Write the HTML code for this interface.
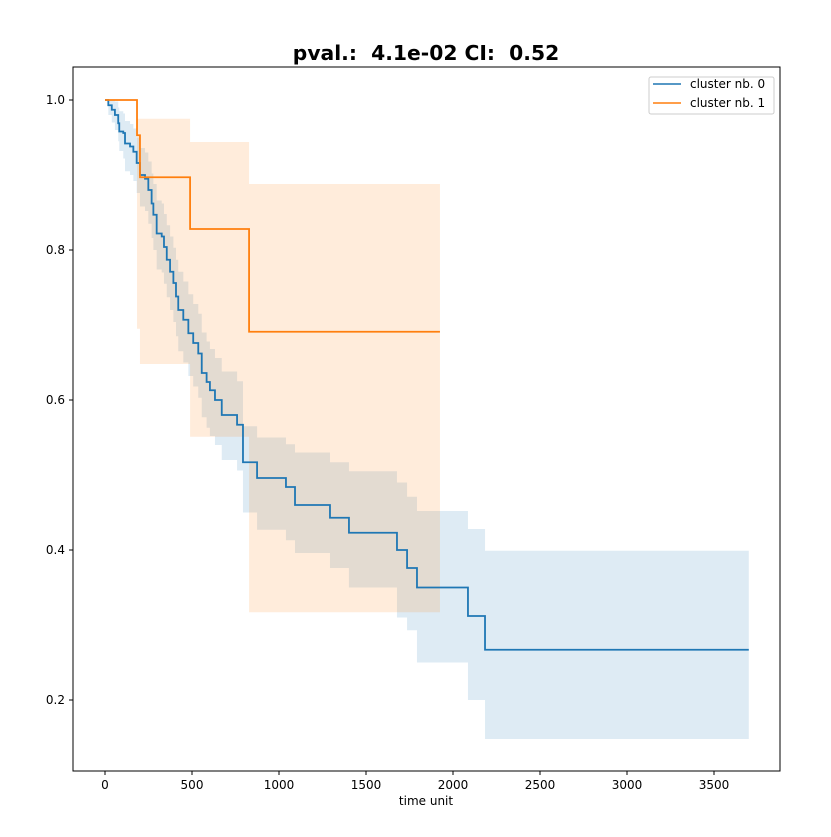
<!DOCTYPE html>
<html><head><meta charset="utf-8"><style>
body{margin:0;background:#fff}
svg text{font-family:"DejaVu Sans","Liberation Sans",sans-serif}
</style></head><body>
<svg id="chart" width="831" height="832" viewBox="0 0 831 832" xmlns="http://www.w3.org/2000/svg">
<rect width="831" height="832" fill="#fff"/>
<text x="426" y="60" text-anchor="middle" font-size="20.3" font-weight="bold" style="white-space:pre" xml:space="preserve">pval.:  4.1e-02 CI:  0.52</text>
<g id="bands"></g>
<g id="lines"></g>
<rect x="73" y="67" width="707" height="704" fill="none" stroke="#000" stroke-width="1"/>
<g id="axes"></g>
<text x="426" y="805" text-anchor="middle" font-size="12">time unit</text>
<g>
<rect x="649" y="77" width="125" height="37" fill="#fff" stroke="#ccc" rx="2"/>
<line x1="653" y1="84" x2="681" y2="84" stroke="#1f77b4" stroke-width="1.5"/>
<text x="690" y="88" font-size="12">cluster nb. 0</text>
<line x1="653" y1="103" x2="681" y2="103" stroke="#ff7f0e" stroke-width="1.5"/>
<text x="690" y="107" font-size="12">cluster nb. 1</text>
</g>
</svg>
<script>
const xTicks=[0,500,1000,1500,2000,2500,3000,3500];
const yTicks=[0.2,0.4,0.6,0.8,1.0];
const blueTimes=[0,19,39,57,76,82,105,115,144,163,182,201,230,249,268,278,297,326,339,355,374,393,408,421,450,479,507,536,556,584,603,632,671,759,793,874,1040,1092,1293,1402,1678,1736,1793,2086,2184];
const blueSurv=[1,0.993,0.987,0.98,0.969,0.958,0.956,0.942,0.938,0.931,0.916,0.9,0.895,0.88,0.862,0.847,0.822,0.818,0.804,0.787,0.771,0.756,0.738,0.72,0.707,0.689,0.676,0.662,0.636,0.624,0.613,0.6,0.58,0.567,0.517,0.496,0.484,0.46,0.443,0.423,0.40,0.376,0.35,0.312,0.267];
const blueUpper=[1,1,1,0.998,0.99,0.985,0.982,0.972,0.968,0.962,0.95,0.936,0.93,0.918,0.902,0.888,0.866,0.862,0.848,0.833,0.818,0.803,0.787,0.771,0.758,0.741,0.728,0.715,0.69,0.678,0.668,0.656,0.638,0.625,0.565,0.55,0.541,0.53,0.517,0.505,0.49,0.471,0.452,0.428,0.399];
const blueLower=[1,0.98,0.97,0.96,0.945,0.932,0.922,0.905,0.9,0.892,0.876,0.858,0.852,0.835,0.816,0.8,0.774,0.77,0.755,0.737,0.72,0.704,0.685,0.665,0.65,0.632,0.618,0.603,0.577,0.563,0.552,0.54,0.52,0.506,0.45,0.427,0.413,0.396,0.376,0.35,0.31,0.293,0.25,0.2,0.148];
const blueEnd=3700;
const orangeTimes=[0,184,201,489,828];
const orangeSurv=[1.0,0.953,0.897,0.828,0.691];
const orangeUpper=[1.0,0.975,0.975,0.944,0.888];
const orangeLower=[1.0,0.695,0.648,0.551,0.317];
const orangeEnd=1925;
const NS='http://www.w3.org/2000/svg';
const X=t=>105+t*0.174;
const Y=s=>100+(1-s)*750;
function stepPath(times,vals,end){let d='M'+X(times[0])+','+Y(vals[0]);for(let i=1;i<times.length;i++){d+=' H'+X(times[i])+' V'+Y(vals[i]);}d+=' H'+X(end);return d;}
function bandPath(times,up,lo,end){let d='M'+X(times[0])+','+Y(up[0]);for(let i=1;i<times.length;i++){d+=' H'+X(times[i])+' V'+Y(up[i]);}d+=' H'+X(end)+' V'+Y(lo[lo.length-1]);for(let i=times.length-1;i>=1;i--){d+=' H'+X(times[i])+' V'+Y(lo[i-1]);}d+=' H'+X(times[0])+' Z';return d;}
const bands=document.getElementById('bands'),lines=document.getElementById('lines'),axes=document.getElementById('axes');
let p=document.createElementNS(NS,'path');


p.setAttribute('d',bandPath(blueTimes,blueUpper,blueLower,blueEnd));p.setAttribute('fill','rgba(31,119,180,0.15)');bands.appendChild(p);
p=document.createElementNS(NS,'path');


p.setAttribute('d',bandPath(orangeTimes,orangeUpper,orangeLower,orangeEnd));p.setAttribute('fill','rgba(255,127,14,0.15)');bands.appendChild(p);
p=document.createElementNS(NS,'path');


p.setAttribute('d',stepPath(blueTimes,blueSurv,blueEnd));p.setAttribute('fill','none');p.setAttribute('stroke','#1f77b4');p.setAttribute('stroke-width','1.8');lines.appendChild(p);
p=document.createElementNS(NS,'path');


p.setAttribute('d',stepPath(orangeTimes,orangeSurv,orangeEnd));p.setAttribute('fill','none');p.setAttribute('stroke','#ff7f0e');p.setAttribute('stroke-width','1.8');lines.appendChild(p);
xTicks.forEach(v=>{const l=document.createElementNS(NS,'line');


l.setAttribute('x1',X(v));l.setAttribute('x2',X(v));l.setAttribute('y1',771);l.setAttribute('y2',775);l.setAttribute('stroke','#000');axes.appendChild(l);
const t=document.createElementNS(NS,'text');


t.setAttribute('x',X(v));t.setAttribute('y',789);t.setAttribute('text-anchor','middle');t.setAttribute('font-size','12');t.textContent=v;axes.appendChild(t);});
yTicks.forEach(v=>{const l=document.createElementNS(NS,'line');


l.setAttribute('x1',69);l.setAttribute('x2',73);l.setAttribute('y1',Y(v));l.setAttribute('y2',Y(v));l.setAttribute('stroke','#000');axes.appendChild(l);
const t=document.createElementNS(NS,'text');


t.setAttribute('x',65);t.setAttribute('y',Y(v)+4);t.setAttribute('text-anchor','end');t.setAttribute('font-size','12');t.textContent=v.toFixed(1);axes.appendChild(t);});
</script>
</body></html>
